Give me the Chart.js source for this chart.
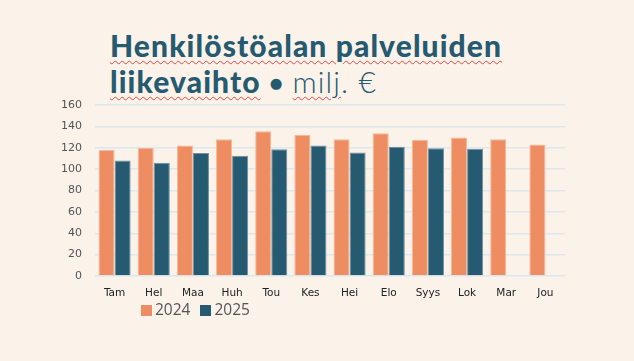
<!DOCTYPE html>
<html>
<head>
<meta charset="utf-8">
<script src="https://cdn.jsdelivr.net/npm/chart.js@4"></script>
<style>
  body { margin: 0; background: #fbf2ea; width: 634px; height: 361px; overflow: hidden; position: relative; }
  #title { position: absolute; left: 110px; top: 27px; font-family: Lato, sans-serif; color: #255a70; font-size: 30px; line-height: 36px; letter-spacing: 1.1px; }
  #title b { font-weight: 900; }
  #title .dot { font-size: 22px; vertical-align: 2px; }
  #title .light { font-weight: 300; }
  .sq { text-decoration: underline wavy #e8474a; text-decoration-thickness: 1px; text-underline-offset: 3px; }
  #wrap { position: absolute; left: 0; top: 1px; width: 634px; height: 361px; }
  #legend { position: absolute; left: 141px; top: 298px; font-family: "Open Sans", sans-serif; font-size: 15.5px; color: #555; }
  #legend span.box { display: inline-block; width: 11px; height: 11px; margin-right: 3px; vertical-align: -1px; }
  #legend span.item { margin-right: 10px; }
</style>
</head>
<body>
<div id="title"><b class="sq">Henkilöstöalan palveluiden</b><br><b class="sq">liikevaihto</b> <b class="dot">●</b> <span class="light"><span class="sq">milj</span>. €</span></div>
<div id="wrap"><canvas id="chart"></canvas></div>
<div id="legend"></div>
<script>
// Kuukaudet ja arvot (milj. €)
const months = ['Tam', 'Hel', 'Maa', 'Huh', 'Tou', 'Kes', 'Hei', 'Elo', 'Syys', 'Lok', 'Mar', 'Jou'];
const values2024 = [118, 120, 122, 128, 135.5, 132, 128, 133.5, 127.5, 129.5, 128, 123];
const values2025 = [108, 106, 115, 112.5, 118.5, 122, 115.5, 121, 119.5, 119, null, null];
const yTicks = [0, 20, 40, 60, 80, 100, 120, 140, 160];

const orange = '#ee8d62';
const teal = '#255a70';

document.getElementById('legend').innerHTML = [['2024', orange], ['2025', teal]]
  .map(([label, color]) => `<span class="item"><span class="box" style="background:${color}"></span>${label}</span>`)
  .join('');

const ctx = document.getElementById('chart').getContext('2d');
new Chart(ctx, {
  type: 'bar',
  data: {
    labels: months,
    datasets: [{
      label: '2024',
      data: values2024,
      backgroundColor: orange,
      borderColor: '#f6b898',
      borderWidth: 1
    }, {
      label: '2025',
      data: values2025,
      backgroundColor: teal,
      borderColor: '#6d91a3',
      borderWidth: 1
    }]
  },
  options: {
    responsive: true,
    maintainAspectRatio: false,
    animation: false,
    layout: { padding: { left: 50, right: 69, top: 104, bottom: 60 } },
    plugins: {
      legend: { display: false },
      tooltip: { enabled: false }
    },
    datasets: { bar: { categoryPercentage: 0.82, barPercentage: 1 } },
    scales: {
      x: {
        grid: { display: false, drawTicks: false },
        border: { display: false },
        ticks: { color: '#222', font: { family: 'DejaVu Sans', size: 10.5 }, padding: 11, maxRotation: 0 },
        afterFit: scale => { scale.height = 26; }
      },
      y: {
        min: 0,
        max: 160,
        afterBuildTicks: scale => { scale.ticks = yTicks.map(v => ({ value: v })); },
        grid: { color: '#dbe8ee', drawTicks: false, lineWidth: 1.5 },
        border: { display: false },
        ticks: { color: '#555', font: { family: 'DejaVu Sans', size: 11 }, padding: 13 },
        afterFit: scale => { scale.width = 45; }
      }
    }
  }
});
</script>
</body>
</html>
